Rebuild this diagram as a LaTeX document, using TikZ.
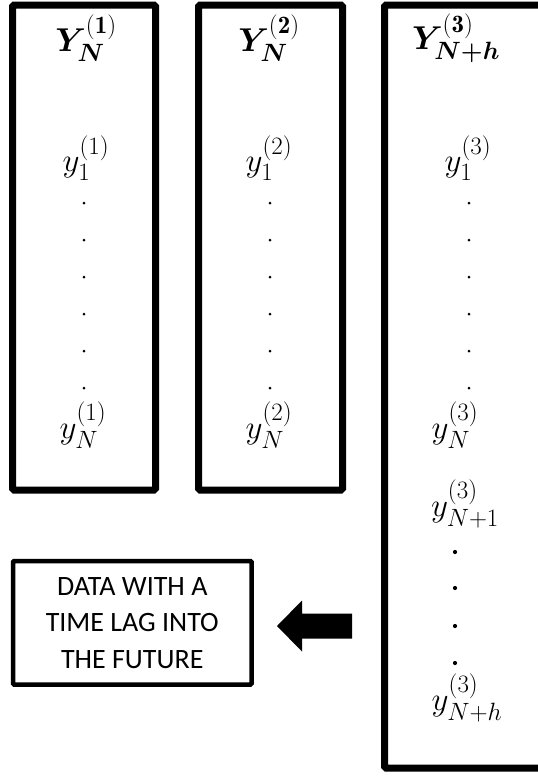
\RequirePackage{fix-cm}
\documentclass[tikz,border=0pt]{standalone}
\usepackage{amsmath,bm}
\usepackage{fontspec}
\newfontfamily\calibfont{Carlito}
\DeclareMathSizes{33}{33}{25}{19}
\usetikzlibrary{positioning}

\begin{document}
\begin{tikzpicture}[x=1pt, y=-1pt,
  every node/.style={inner sep=0pt, outer sep=0pt},
  colbox/.style={rectangle, draw=black, line width=7pt, rounded corners=1.5pt,
                 anchor=north west},
  entry/.style={font=\fontsize{33}{40}\selectfont},
  dotmark/.style={circle, fill=black, minimum size=3pt},
  bigdot/.style={dotmark, minimum size=4.2pt},
  notebox/.style={rectangle, draw=black, line width=4.5pt, rounded corners=1pt,
                  align=center, minimum width=238.5pt, minimum height=123.5pt,
                  font=\calibfont\fontsize{28}{36.5}\selectfont}
]
  \clip (0,0) rectangle (538,777);

  % the three series
  \node[colbox, minimum width=143pt, minimum height=485pt] (col1) at (12.5,5) {};
  \node[colbox, minimum width=144pt, minimum height=485pt] (col2) at (198.5,5) {};
  \node[colbox, minimum width=170pt, minimum height=763pt] (col3) at (384.5,5) {};

  % headers
  \node[entry] (head1) at (86,38) {$\bm{Y}_{\bm{N}}^{(\mathbf{1})}$};
  \node[entry] (head2) at (269,38) {$\bm{Y}_{\bm{N}}^{(\mathbf{2})}$};
  \node[entry] (head3) at (456,38) {$\bm{Y}_{\bm{N+h}}^{(\mathbf{3})}$};

  % first and last values
  \node[entry] (first1) at (86,158) {$y_1^{(1)}$};
  \node[entry] (first2) at (269,158) {$y_1^{(2)}$};
  \node[entry] (first3) at (468,158) {$y_1^{(3)}$};
  \node[entry] (last1) at (83,425) {$y_N^{(1)}$};
  \node[entry] (last2) at (269,425) {$y_N^{(2)}$};
  \node[entry] (last3) at (455,425) {$y_N^{(3)}$};

  % dots between y_1 and y_N
  \foreach \i/\yy in {1/203,2/240,3/277,4/314,5/351,6/388} {
    \node[dotmark] (dotA\i) at (84,\yy) {};
    \node[dotmark] (dotB\i) at (270,\yy) {};
    \node[dotmark] (dotC\i) at (469,\yy) {};
  }

  % forecast horizon
  \node[entry] (next3) at (465,504) {$y_{N+1}^{(3)}$};
  \foreach \i/\yy in {1/552,2/588,3/626,4/663}
    \node[bigdot] (dotD\i) at (455,\yy) {};
  \node[entry] (end3) at (467,698) {$y_{N+h}^{(3)}$};

  % note and its arrow
  \node[notebox] (note) at (132.25,622.75) {DATA WITH A\\TIME LAG INTO\\THE FUTURE};
  \coordinate (tip) at (277,626);
  \fill (tip) -- ++(25,-25.5) -- ++(0,13) -- ++(50,0) -- ++(0,25)
        -- ++(-50,0) -- ++(0,13) -- cycle;
\end{tikzpicture}
\end{document}
